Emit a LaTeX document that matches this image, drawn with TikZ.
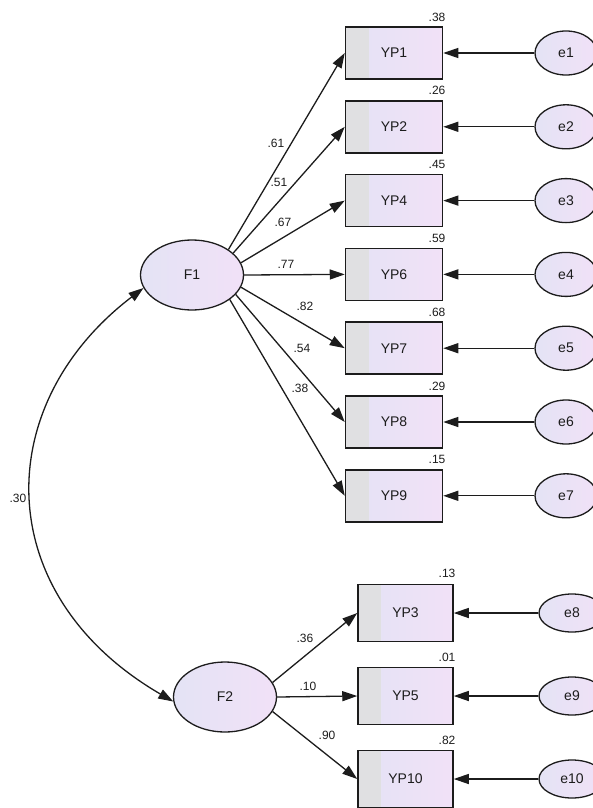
\documentclass[tikz,border=0pt]{standalone}
\usepackage{fontspec}
\setmainfont{Liberation Sans}
\usetikzlibrary{arrows.meta,shapes.geometric}
\definecolor{boxgray}{RGB}{224,224,226}
\definecolor{boxlav}{RGB}{228,227,245}
\definecolor{boxpink}{RGB}{241,225,247}
\definecolor{inkc}{RGB}{28,28,28}

\begin{document}
\begin{tikzpicture}[x=1pt, y=-1pt, >={Triangle[width=10pt,length=15pt]},
  obs/.style={rectangle, draw=inkc, line width=1.5pt, minimum width=97pt, minimum height=52pt,
    left color=boxlav, right color=boxpink, text=inkc, font=\fontsize{14}{16}\selectfont,
    path picture={\fill[boxgray] (path picture bounding box.south west) rectangle ([xshift=23pt]path picture bounding box.north west);}},
  obsb/.style={obs, minimum width=95pt, minimum height=57pt},
  lat/.style={ellipse, draw=inkc, line width=1.3pt, minimum width=103pt, minimum height=70pt,
    left color=boxlav, right color=boxpink, text=inkc, font=\fontsize{14}{16}\selectfont},
  err/.style={lat, minimum width=62pt, minimum height=44pt},
  errb/.style={lat, minimum width=66pt, minimum height=38pt},
  lbl/.style={text=inkc, inner sep=0pt, font=\fontsize{12}{14}\selectfont},
  link/.style={->, draw=inkc, line width=1.3pt}]
  \useasboundingbox (0,0) rectangle (593,808);
  \clip (0,0) rectangle (593,808);
  % latent factors
  \node[lat] (F1) at (192,275) {F1};
  \node[lat] (F2) at (225,697) {F2};
  % indicators of F1
  \node[obs] (YP1) at (394,53.0) {YP1};
  \node[obs] (YP2) at (394,126.8) {YP2};
  \node[obs] (YP4) at (394,200.6) {YP4};
  \node[obs] (YP6) at (394,274.4) {YP6};
  \node[obs] (YP7) at (394,348.2) {YP7};
  \node[obs] (YP8) at (394,422.0) {YP8};
  \node[obs] (YP9) at (394,495.8) {YP9};
  % indicators of F2
  \node[obsb] (YP3) at (405.5,613) {YP3};
  \node[obsb] (YP5) at (405.5,696) {YP5};
  \node[obsb] (YP10) at (405.5,779) {YP10};
  % error terms
  \node[err] (e1) at (566,53.0) {e1};
  \node[err] (e2) at (566,126.8) {e2};
  \node[err] (e3) at (566,200.6) {e3};
  \node[err] (e4) at (566,274.4) {e4};
  \node[err] (e5) at (566,348.2) {e5};
  \node[err] (e6) at (566,422.0) {e6};
  \node[err] (e7) at (566,495.8) {e7};
  \node[errb] (e8) at (572,613) {e8};
  \node[errb] (e9) at (572,696) {e9};
  \node[errb] (e10) at (572,779) {e10};
  % loadings
  \draw[link] (F1.35) -- (YP1.west);
  \draw[link] (F1.28) -- (YP2.west);
  \draw[link] (F1.14) -- (YP4.west);
  \draw[link] (F1.east) -- (YP6.west);
  \draw[link] (F1.-14) -- (YP7.west);
  \draw[link] (F1.-24) -- (YP8.west);
  \draw[link] (F1.-33) -- (YP9.west);
  \draw[link] (F2.17) -- (YP3.west);
  \draw[link] (F2.east) -- (YP5.west);
  \draw[link] (F2.-17) -- (YP10.west);
  % errors
  \draw[link] (e1) -- (YP1);
  \draw[link] (e2) -- (YP2);
  \draw[link] (e3) -- (YP4);
  \draw[link] (e4) -- (YP6);
  \draw[link] (e5) -- (YP7);
  \draw[link] (e6) -- (YP8);
  \draw[link] (e7) -- (YP9);
  \draw[link] (e8) -- (YP3);
  \draw[link] (e9) -- (YP5);
  \draw[link] (e10) -- (YP10);
  % covariance
  \draw[link, <->] (F1.195) .. controls (-10,405) and (-10,595) .. (F2.185);
  \node[lbl] (c12) at (18,498) {.30};
  % weights
  \node[lbl] (w1) at (276,143) {.61};
  \node[lbl] (w2) at (279,182) {.51};
  \node[lbl] (w3) at (283,222) {.67};
  \node[lbl] (w4) at (286,264) {.77};
  \node[lbl] (w5) at (305,306) {.82};
  \node[lbl] (w6) at (302,348) {.54};
  \node[lbl] (w7) at (300,388) {.38};
  \node[lbl] (w8) at (305,638) {.36};
  \node[lbl] (w9) at (308,686) {.10};
  \node[lbl] (w10) at (327,735) {.90};
  % squared multiple correlations
  \node[lbl] (r1) at (437,17.0) {.38};
  \node[lbl] (r2) at (437,90.8) {.26};
  \node[lbl] (r3) at (437,164.6) {.45};
  \node[lbl] (r4) at (437,238.4) {.59};
  \node[lbl] (r5) at (437,312.2) {.68};
  \node[lbl] (r6) at (437,386.0) {.29};
  \node[lbl] (r7) at (437,459.8) {.15};
  \node[lbl] (r8) at (447,573) {.13};
  \node[lbl] (r9) at (447,657) {.01};
  \node[lbl] (r10) at (447,740) {.82};
\end{tikzpicture}
\end{document}
